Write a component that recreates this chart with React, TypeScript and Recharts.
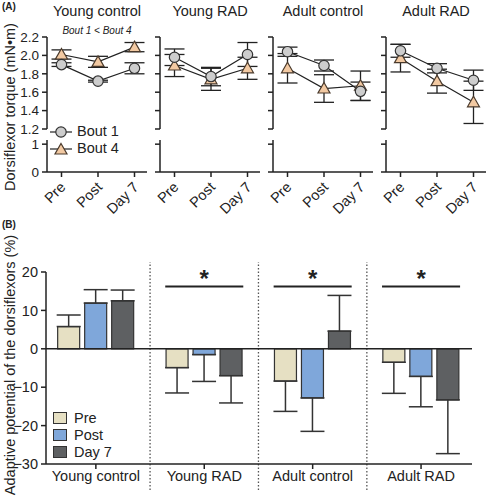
import React from 'react';
import {
  LineChart,
  Line,
  BarChart,
  Bar,
  XAxis,
  YAxis,
  ErrorBar,
  ReferenceLine,
  ReferenceDot,
  Legend,
} from 'recharts';

const groups = ['Young control', 'Young RAD', 'Adult control', 'Adult RAD'];
const timepoints = ['Pre', 'Post', 'Day 7'];

// torque (mN·m), one row per group, columns Pre / Post / Day 7
const bout1 = [
  [1.9, 1.72, 1.86],
  [1.98, 1.77, 2.01],
  [2.04, 1.89, 1.61],
  [2.05, 1.86, 1.73],
];
const bout1Err = [
  [0.02, 0.01, 0.06],
  [0.09, 0.1, 0.13],
  [0.05, 0.06, 0.1],
  [0.07, 0.05, 0.11],
];
const bout4 = [
  [2.01, 1.93, 2.09],
  [1.89, 1.74, 1.86],
  [1.86, 1.64, 1.67],
  [1.97, 1.72, 1.49],
];
const bout4Err = [
  [0.05, 0.06, 0.05],
  [0.12, 0.12, 0.12],
  [0.16, 0.15, 0.16],
  [0.15, 0.13, 0.23],
];
const topTicks = [1.2, 1.4, 1.6, 1.8, 2.0, 2.2];
const lowTicks = [0, 1];

// adaptive potential (%), one value per group
const prePct = [5.8, -4.9, -8.4, -3.5];
const preErr = [3.0, 6.6, 7.9, 8.1];
const postPct = [11.9, -1.5, -12.8, -7.2];
const postErr = [3.5, 7.0, 8.7, 7.9];
const day7Pct = [12.5, -7.0, 4.6, -13.3];
const day7Err = [2.8, 7.1, 9.3, 14.0];
const pctTicks = [-30, -20, -10, 0, 10, 20];
const sigGroups = [1, 2, 3];
const sigLevel = 16.2;

const FONT = '"Liberation Sans", Arial, sans-serif';
const INK = '#222';
const C_PRE = '#e6e0c3';
const C_POST = '#7fa7da';
const C_DAY7 = '#5e6062';
const C_B1 = '#cdcdcd';
const C_B4 = '#f2c9a2';
const barColors = [C_PRE, C_POST, C_DAY7];

const axisStroke = { stroke: INK, strokeWidth: 1.5 };

const CircleDot = (p: any) => (
  <circle key={`c${p.index}`} cx={p.cx} cy={p.cy} r={5.2} fill={C_B1} stroke="#333" strokeWidth={1.2} />
);
const TriDot = (p: any) => (
  <path
    key={`t${p.index}`}
    d={`M${p.cx},${p.cy - 6} L${p.cx + 6},${p.cy + 4.5} L${p.cx - 6},${p.cy + 4.5} Z`}
    fill={C_B4}
    stroke="#4a3a2c"
    strokeWidth={1.2}
  />
);

const TopLegend = () => (
  <div style={{ fontFamily: FONT, fontSize: 14.5, color: INK, lineHeight: '17px' }}>
    {[
      { name: 'Bout 1', tri: false },
      { name: 'Bout 4', tri: true },
    ].map((s) => (
      <div key={s.name} style={{ display: 'flex', alignItems: 'center', height: 17 }}>
        <svg width={22} height={14}>
          <line x1={0} y1={7} x2={22} y2={7} stroke={INK} strokeWidth={1.2} />
          {s.tri ? TriDot({ cx: 11, cy: 7.5, index: 0 }) : CircleDot({ cx: 11, cy: 7, index: 0 })}
        </svg>
        <span style={{ marginLeft: 5 }}>{s.name}</span>
      </div>
    ))}
  </div>
);

const BarLegend = () => (
  <div style={{ fontFamily: FONT, fontSize: 14.5, color: INK }}>
    {timepoints.map((t, i) => (
      <div key={t} style={{ display: 'flex', alignItems: 'center', height: 17 }}>
        <div style={{ width: 12, height: 10, background: barColors[i], border: '1.2px solid #333' }} />
        <span style={{ marginLeft: 7 }}>{t}</span>
      </div>
    ))}
  </div>
);

const RotTick = (p: any) => (
  <text
    x={p.x + 5}
    y={p.y + 9}
    transform={`rotate(-45, ${p.x + 5}, ${p.y + 9})`}
    textAnchor="end"
    fontSize={14.5}
    fill={INK}
    fontFamily={FONT}
  >
    {p.payload.value}
  </text>
);

function TorquePanel({ idx }: { idx: number }) {
  const data = timepoints.map((t, j) => ({
    t,
    b1: bout1[idx][j],
    b1e: bout1Err[idx][j],
    b4: bout4[idx][j],
    b4e: bout4Err[idx][j],
  }));
  const first = idx === 0;
  const yw = first ? 47 : 10;
  const x0 = 47 + 113 * idx;
  const left = x0 - yw;
  const w = yw + 100;
  const pad = { left: 14.5, right: 12.5 };
  const fmt = (v: number) => (first ? (v === 0 || v === 1 ? String(v) : v.toFixed(1)) : '');
  const tickStyle = { fontSize: 13.5, fill: INK, fontFamily: FONT };

  return (
    <>
      <div style={{ position: 'absolute', left: x0, top: 3, width: 100, textAlign: 'center', fontSize: 14.5 }}>
        {groups[idx]}
      </div>
      <div style={{ position: 'absolute', left, top: 30 }}>
        <LineChart width={w} height={110} data={data} margin={{ top: 7, right: 0, bottom: 11, left: 0 }}>
          <XAxis dataKey="t" hide padding={pad} />
          <YAxis
            domain={[1.2, 2.2]}
            ticks={topTicks}
            interval={0}
            width={yw}
            tickSize={5}
            tickMargin={3}
            tick={tickStyle}
            tickFormatter={fmt}
            axisLine={axisStroke}
            tickLine={axisStroke}
          />
          <Line dataKey="b4" stroke={INK} strokeWidth={1.2} dot={TriDot} activeDot={false} isAnimationActive={false}>
            <ErrorBar dataKey="b4e" width={10} stroke={INK} strokeWidth={1.3} direction="y" isAnimationActive={false} />
          </Line>
          <Line dataKey="b1" stroke={INK} strokeWidth={1.2} dot={CircleDot} activeDot={false} isAnimationActive={false}>
            <ErrorBar dataKey="b1e" width={10} stroke={INK} strokeWidth={1.3} direction="y" isAnimationActive={false} />
          </Line>
          {first && (
            <Legend
              layout="vertical"
              align="center"
              verticalAlign="middle"
              content={() => <TopLegend />}
              wrapperStyle={{ position: 'absolute', left: 50, top: 93, width: 90 }}
            />
          )}
        </LineChart>
      </div>
      <div style={{ position: 'absolute', left, top: 136 }}>
        <LineChart width={w} height={90} data={data} margin={{ top: 4, right: 0, bottom: 0, left: 0 }}>
          <XAxis
            dataKey="t"
            padding={pad}
            interval={0}
            height={54}
            tickSize={5}
            tick={RotTick}
            axisLine={axisStroke}
            tickLine={axisStroke}
          />
          <YAxis
            domain={[0, 1.15]}
            allowDataOverflow
            ticks={lowTicks}
            interval={0}
            width={yw}
            tickSize={5}
            tickMargin={3}
            tick={tickStyle}
            tickFormatter={fmt}
            axisLine={axisStroke}
            tickLine={axisStroke}
          />
          <Line dataKey="b1" stroke="none" dot={false} activeDot={false} isAnimationActive={false} />
        </LineChart>
      </div>
    </>
  );
}

export default function App() {
  const barData = groups.map((g, i) => ({
    x: i + 0.5,
    pre: prePct[i],
    preE: prePct[i] >= 0 ? [0, preErr[i]] : [preErr[i], 0],
    post: postPct[i],
    postE: postPct[i] >= 0 ? [0, postErr[i]] : [postErr[i], 0],
    day7: day7Pct[i],
    day7E: day7Pct[i] >= 0 ? [0, day7Err[i]] : [day7Err[i], 0],
  }));
  const tickStyle = { fontSize: 14.5, fill: INK, fontFamily: FONT };
  const eb = { width: 12, stroke: '#333', strokeWidth: 1.5, direction: 'y' as const, isAnimationActive: false };

  return (
    <div
      style={{
        position: 'absolute',
        left: 0,
        top: 0,
        width: 486,
        height: 500,
        background: '#fff',
        fontFamily: FONT,
        color: INK,
        overflow: 'hidden',
      }}
    >
      <div style={{ position: 'absolute', left: 2, top: 1, fontSize: 10, fontWeight: 'bold' }}>(A)</div>
      <div style={{ position: 'absolute', left: 2, top: 219, fontSize: 10, fontWeight: 'bold' }}>(B)</div>
      <div
        style={{
          position: 'absolute',
          left: 10,
          top: 107,
          fontSize: 14.5,
          whiteSpace: 'nowrap',
          transform: 'translate(-50%, -50%) rotate(-90deg)',
        }}
      >
        Dorsiflexor torque (mN•m)
      </div>
      <div
        style={{
          position: 'absolute',
          left: 10,
          top: 365,
          fontSize: 14.5,
          whiteSpace: 'nowrap',
          transform: 'translate(-50%, -50%) rotate(-90deg)',
        }}
      >
        Adaptive potential of the dorsiflexors (%)
      </div>
      <div
        style={{
          position: 'absolute',
          left: 47,
          top: 25,
          width: 100,
          textAlign: 'center',
          fontSize: 10,
          fontStyle: 'italic',
        }}
      >
        Bout 1 &lt; Bout 4
      </div>

      {groups.map((g, i) => (
        <TorquePanel key={g} idx={i} />
      ))}

      <div style={{ position: 'absolute', left: 0, top: 262 }}>
        <BarChart
          width={486}
          height={232}
          data={barData}
          barGap={5}
          margin={{ top: 10, right: 14, bottom: 0, left: 0 }}
        >
          <XAxis
            dataKey="x"
            type="number"
            domain={[0.04, 3.97]}
            allowDataOverflow
            ticks={[0.5, 1.5, 2.5, 3.5]}
            interval={0}
            tickFormatter={(v: number) => groups[Math.round(v - 0.5)]}
            height={30}
            tickSize={5}
            tick={tickStyle}
            axisLine={axisStroke}
            tickLine={axisStroke}
          />
          <YAxis
            domain={[-30, 20]}
            ticks={pctTicks}
            interval={0}
            width={46}
            tickSize={5}
            tickMargin={3}
            tick={tickStyle}
            tickFormatter={(v: number) => (v < 0 ? `\u2212${Math.abs(v)}` : String(v))}
            axisLine={axisStroke}
            tickLine={axisStroke}
          />
          {[1, 2, 3].map((d) => (
            <ReferenceLine
              key={`div${d}`}
              segment={[
                { x: d, y: 23.8 },
                { x: d, y: -36.8 },
              ]}
              ifOverflow="visible"
              stroke="#555"
              strokeWidth={1.3}
              strokeDasharray="1.5 2"
            />
          ))}
          <Bar dataKey="pre" name="Pre" fill={C_PRE} stroke="#333" strokeWidth={1.2} barSize={22} isAnimationActive={false}>
            <ErrorBar dataKey="preE" {...eb} />
          </Bar>
          <Bar dataKey="post" name="Post" fill={C_POST} stroke="#333" strokeWidth={1.2} barSize={22} isAnimationActive={false}>
            <ErrorBar dataKey="postE" {...eb} />
          </Bar>
          <Bar dataKey="day7" name="Day 7" fill={C_DAY7} stroke="#333" strokeWidth={1.2} barSize={22} isAnimationActive={false}>
            <ErrorBar dataKey="day7E" {...eb} />
          </Bar>
          <ReferenceLine y={0} stroke={INK} strokeWidth={1.5} />
          {sigGroups.map((i) => (
            <ReferenceLine
              key={`sig${i}`}
              segment={[
                { x: i + 0.14, y: sigLevel },
                { x: i + 0.86, y: sigLevel },
              ]}
              stroke={INK}
              strokeWidth={2}
            />
          ))}
          {sigGroups.map((i) => (
            <ReferenceDot
              key={`star${i}`}
              x={i + 0.5}
              y={18.3}
              r={0}
              stroke="none"
              fill="none"
              label={{ value: '*', position: 'center', fontSize: 24, fontWeight: 'bold', fill: INK, fontFamily: FONT }}
            />
          ))}
          <Legend
            layout="vertical"
            align="center"
            verticalAlign="middle"
            content={() => <BarLegend />}
            wrapperStyle={{ position: 'absolute', left: 53, top: 147, width: 90 }}
          />
        </BarChart>
      </div>
    </div>
  );
}
